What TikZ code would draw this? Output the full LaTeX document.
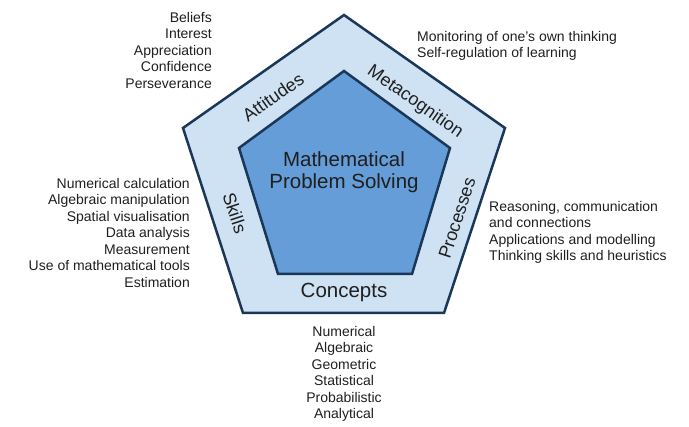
\documentclass[tikz,border=0pt]{standalone}
\usepackage{fontspec}
\setmainfont{Liberation Sans}
\usetikzlibrary{positioning,calc}
\definecolor{ringblue}{RGB}{207,226,243}
\definecolor{coreblue}{RGB}{100,157,216}
\definecolor{edgeblue}{RGB}{26,55,88}

\begin{document}
\begin{tikzpicture}[x=1pt,y=-1pt,
  every node/.style={align=center,text=black!88},
  ring/.style={draw=edgeblue,line width=2.5pt,fill=ringblue,line join=miter},
  core/.style={ring,fill=coreblue},
  side/.style={font=\fontsize{18}{20}\selectfont,inner sep=0pt},
  title/.style={font=\fontsize{20.5}{21.5}\selectfont,inner sep=0pt},
  list/.style={font=\fontsize{14}{16.5}\selectfont,inner sep=0pt}]

  \useasboundingbox (0,0) rectangle (689,427);

  % Pentagons
  \coordinate (outer top) at (344,15);
  \coordinate (outer right) at (505,128);
  \coordinate (outer br) at (444,313);
  \coordinate (outer bl) at (243,313);
  \coordinate (outer left) at (183,128);
  \draw[ring] (outer top) -- (outer right) -- (outer br) -- (outer bl) -- (outer left) -- cycle;

  \coordinate (inner top) at (344,71);
  \coordinate (inner right) at (450,148);
  \coordinate (inner br) at (412,274);
  \coordinate (inner bl) at (278,274);
  \coordinate (inner left) at (239,148);
  \draw[core] (inner top) -- (inner right) -- (inner br) -- (inner bl) -- (inner left) -- cycle;

  % Labels in the ring
  \node[title] (mps) at (344,172) {Mathematical\\Problem Solving};
  \node[title] (concepts) at (344,292) {Concepts};
  \node[side, rotate=35] (attitudes) at (273,97) {Attitudes};
  \node[side, rotate=-35] (metacognition) at (415,102) {Metacognition};
  \node[side, rotate=-72] (skills) at (235,213) {Skills};
  \node[side, rotate=72] (processes) at (457,218) {Processes};

  % Lists
  \node[list, align=right, anchor=north east] (attitudes list) at (212,12)
      {Beliefs\\Interest\\Appreciation\\Confidence\\Perseverance};
  \node[list, align=left, anchor=north west] (metacognition list) at (417,31)
      {Monitoring of one’s own thinking\\Self-regulation of learning};
  \node[list, align=right, anchor=north east] (skills list) at (190,178)
      {Numerical calculation\\Algebraic manipulation\\Spatial visualisation\\Data analysis\\Measurement\\Use of mathematical tools\\Estimation};
  \node[list, align=left, anchor=north west] (processes list) at (489,201)
      {Reasoning, communication\\and connections\\Applications and modelling\\Thinking skills and heuristics};
  \node[list, anchor=north] (concepts list) at (344,326)
      {Numerical\\Algebraic\\Geometric\\Statistical\\Probabilistic\\Analytical};

\end{tikzpicture}
\end{document}
